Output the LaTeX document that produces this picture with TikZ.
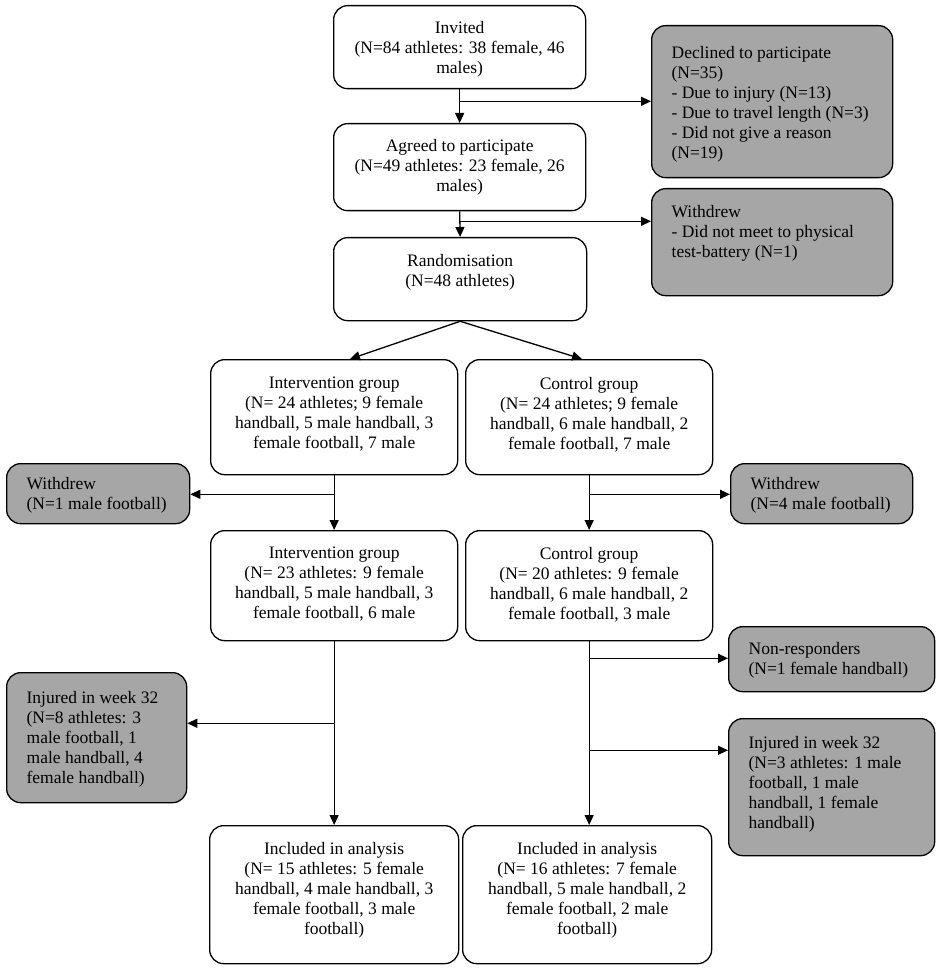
\documentclass[tikz,border=0pt]{standalone}
\usepackage{fontspec}
\setmainfont{Liberation Serif}
\usetikzlibrary{arrows.meta}
\definecolor{boxgrey}{RGB}{166,166,166}
\newcommand{\bxc}[4]{\begin{minipage}[t][#2pt][t]{#1pt}\vspace*{\dimexpr#3pt-1pt\relax}#4\end{minipage}}
\newcommand{\gl}{\raggedright\leftskip=20pt\relax}
\begin{document}
\begin{tikzpicture}[x=1pt,y=-1pt,
  box/.style={draw, line width=1.3pt, rounded corners=14pt, inner sep=0pt, anchor=north west, font=\fontsize{17.5}{20}\selectfont},
  wbox/.style={box, fill=white},
  gbox/.style={box, fill=boxgrey},
  arr/.style={line width=1.3pt, -{Triangle[length=10pt,width=9pt]}}]
\useasboundingbox (0,0) rectangle (945,968);

\node[wbox] (inv) at (333,5) {\bxc{252}{83}{16.5}{\centering Invited\\(N=84 athletes: 38 female, 46\\males)}};
\node[gbox] (decl) at (651,25) {\bxc{241}{152}{21.5}{\gl Declined to participate\\(N=35)\\- Due to injury (N=13)\\- Due to travel length (N=3)\\- Did not give a reason\\(N=19)}};
\node[wbox] (agr) at (333,123) {\bxc{252}{87}{16.5}{\centering Agreed to participate\\(N=49 athletes: 23 female, 26\\males)}};
\node[gbox] (wd1) at (651,188) {\bxc{241}{107}{17.5}{\gl Withdrew\\- Did not meet to physical\\test-battery (N=1)}};
\node[wbox] (rand) at (333,237) {\bxc{253}{83}{17.5}{\centering Randomisation\\(N=48 athletes)}};
\node[wbox] (int1) at (210,359) {\bxc{247}{115}{18.5}{\centering Intervention group\\(N= 24 athletes; 9 female\\handball, 5 male handball, 3\\female football, 7 male}};
\node[wbox] (con1) at (465,359) {\bxc{247}{115}{18.5}{\centering Control group\\(N= 24 athletes; 9 female\\handball, 6 male handball, 2\\female football, 7 male}};
\node[gbox] (wdL) at (6,463) {\bxc{183}{60}{14.5}{\gl Withdrew\\(N=1 male football)}};
\node[gbox] (wdR) at (730,463) {\bxc{182}{60}{14.5}{\gl Withdrew\\(N=4 male football)}};
\node[wbox] (int2) at (210,530) {\bxc{247}{110}{17.5}{\centering Intervention group\\(N= 23 athletes: 9 female\\handball, 5 male handball, 3\\female football, 6 male}};
\node[wbox] (con2) at (465,530) {\bxc{247}{110}{17.5}{\centering Control group\\(N= 20 athletes: 9 female\\handball, 6 male handball, 2\\female football, 3 male}};
\node[gbox] (nonr) at (728,626) {\bxc{206}{65}{16.5}{\gl Non-responders\\(N=1 female handball)}};
\node[gbox] (injL) at (6,672) {\bxc{180}{130}{19.5}{\gl Injured in week 32\\(N=8 athletes: 3\\male football, 1\\male handball, 4\\female handball)}};
\node[gbox] (injR) at (728,718) {\bxc{206}{137}{18.5}{\gl Injured in week 32\\(N=3 athletes: 1 male\\football, 1 male\\handball, 1 female\\handball)}};
\node[wbox] (incL) at (209,825) {\bxc{249}{138}{17.5}{\centering Included in analysis\\(N= 15 athletes: 5 female\\handball, 4 male handball, 3\\female football, 3 male\\football)}};
\node[wbox] (incR) at (462,825) {\bxc{249}{138}{17.5}{\centering Included in analysis\\(N= 16 athletes: 7 female\\handball, 5 male handball, 2\\female football, 2 male\\football)}};

% branch points
\path (inv.south) ++(0,12) coordinate (b1);
\path (agr.south) ++(0,10) coordinate (b2);
\path (int1.south) ++(0,19) coordinate (b3);
\path (con1.south) ++(0,19) coordinate (b4);
\path (int2.south) ++(0,82) coordinate (b5);
\path (con2.south) ++(0,17) coordinate (b6);
\path (con2.south) ++(0,109) coordinate (b7);
\coordinate (t1) at (350,359);
\coordinate (t2) at (582,359);

\draw[arr] (inv.south) -- (agr.north);
\draw[arr] (b1) -- (b1 -| decl.west);
\draw[arr] (agr.south) -- (rand.north);
\draw[arr] (b2) -- (b2 -| wd1.west);
\draw[arr] (rand.south) -- (t1);
\draw[arr] (rand.south) -- (t2);
\draw[arr] (int1.south) -- (int2.north);
\draw[arr] (b3) -- (b3 -| wdL.east);
\draw[arr] (con1.south) -- (con2.north);
\draw[arr] (b4) -- (b4 -| wdR.west);
\draw[arr] (int2.south) -- (int2.south |- incL.north);
\draw[arr] (b5) -- (b5 -| injL.east);
\draw[arr] (con2.south) -- (con2.south |- incR.north);
\draw[arr] (b6) -- (b6 -| nonr.west);
\draw[arr] (b7) -- (b7 -| injR.west);
\end{tikzpicture}
\end{document}
